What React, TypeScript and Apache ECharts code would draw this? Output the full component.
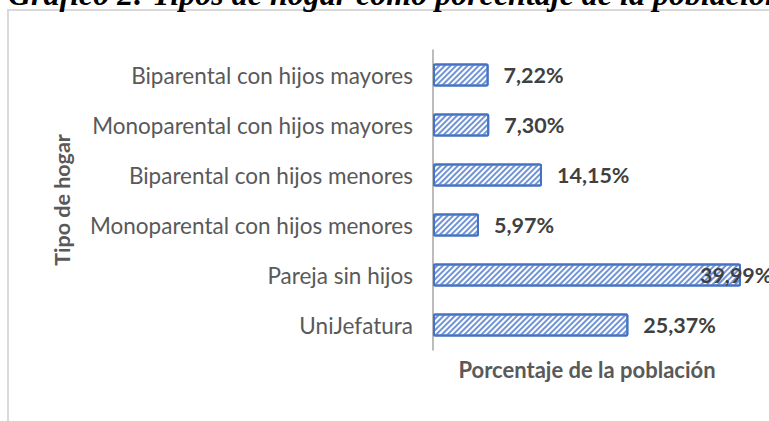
import React, { useEffect, useRef } from "react";
import * as echarts from "echarts";

const titleText = "Gráfico 2: Tipos de hogar como porcentaje de la población";
const categories = [
  "UniJefatura",
  "Pareja sin hijos",
  "Monoparental con hijos menores",
  "Biparental con hijos menores",
  "Monoparental con hijos mayores",
  "Biparental con hijos mayores",
];
const values = [25.37, 39.99, 5.97, 14.15, 7.3, 7.22];
const xAxisTitle = "Porcentaje de la población";
const yAxisTitle = "Tipo de hogar";

const fmt = (v: number) => v.toFixed(2).replace(".", ",") + "%";
const FONT = "Lato, 'Open Sans', sans-serif";

export default function App() {
  const ref = useRef<HTMLDivElement>(null);
  useEffect(() => {
    if (!ref.current) return;
    const chart = echarts.init(ref.current, null, { renderer: "svg" });
    const maxV = Math.max(...values);
    chart.setOption({
      animation: false,
      aria: { enabled: true, decal: { show: true } },
      graphic: [
        {
          type: "rect",
          shape: { x: 8, y: 10, width: 800, height: 500 },
          style: { fill: "none", stroke: "#d9d9d9", lineWidth: 2 },
          silent: true,
        },
        {
          type: "text",
          x: 8,
          y: 10,
          style: {
            text: titleText,
            font: "italic bold 32px 'Liberation Serif', 'Times New Roman', serif",
            fill: "#000000",
            textVerticalAlign: "bottom",
          },
          silent: true,
        },
      ],
      grid: { left: 433, top: 50, width: 308, height: 300, containLabel: false },
      xAxis: {
        type: "value",
        min: 0,
        max: 40,
        show: true,
        axisLine: { show: false },
        axisTick: { show: false },
        axisLabel: { show: false },
        splitLine: { show: false },
        name: xAxisTitle,
        nameLocation: "middle",
        nameGap: 8,
        nameTextStyle: {
          fontFamily: FONT,
          fontWeight: "bold",
          fontSize: 22,
          color: "#595959",
          verticalAlign: "top",
        },
      },
      yAxis: {
        type: "category",
        data: categories,
        axisLine: { show: true, lineStyle: { color: "#a6a6a6", width: 1.5 } },
        axisTick: { show: false },
        axisLabel: {
          margin: 20,
          fontFamily: FONT,
          fontSize: 22.5,
          color: "#595959",
        },
        name: yAxisTitle,
        nameLocation: "middle",
        nameGap: 360,
        nameRotate: 90,
        nameTextStyle: {
          fontFamily: FONT,
          fontWeight: "bold",
          fontSize: 21.5,
          color: "#595959",
        },
      },
      series: [
        {
          type: "bar",
          barWidth: "46%",
          data: values.map((v) => ({
            value: v,
            label:
              v === maxV
                ? { position: "right", offset: [-56, 0] }
                : undefined,
          })),
          itemStyle: {
            color: "#ffffff",
            borderColor: "#4472c4",
            borderWidth: 2,
            borderRadius: 1,
            decal: {
              symbol: "rect",
              symbolSize: 1,
              color: "#7094d6",
              backgroundColor: "#eef2fa",
              dashArrayX: [1, 0],
              dashArrayY: [1.5, 2],
              rotation: -Math.PI / 4,
            },
          },
          label: {
            show: true,
            position: "right",
            distance: 15,
            formatter: (p: any) => fmt(p.value),
            fontFamily: FONT,
            fontWeight: "bold",
            fontSize: 21.5,
            color: "#404040",
          },
        },
      ],
    });
    return () => chart.dispose();
  }, []);
  return (
    <div
      ref={ref}
      style={{ position: "fixed", left: 0, top: 0, width: 769, height: 421, background: "#ffffff" }}
    />
  );
}
